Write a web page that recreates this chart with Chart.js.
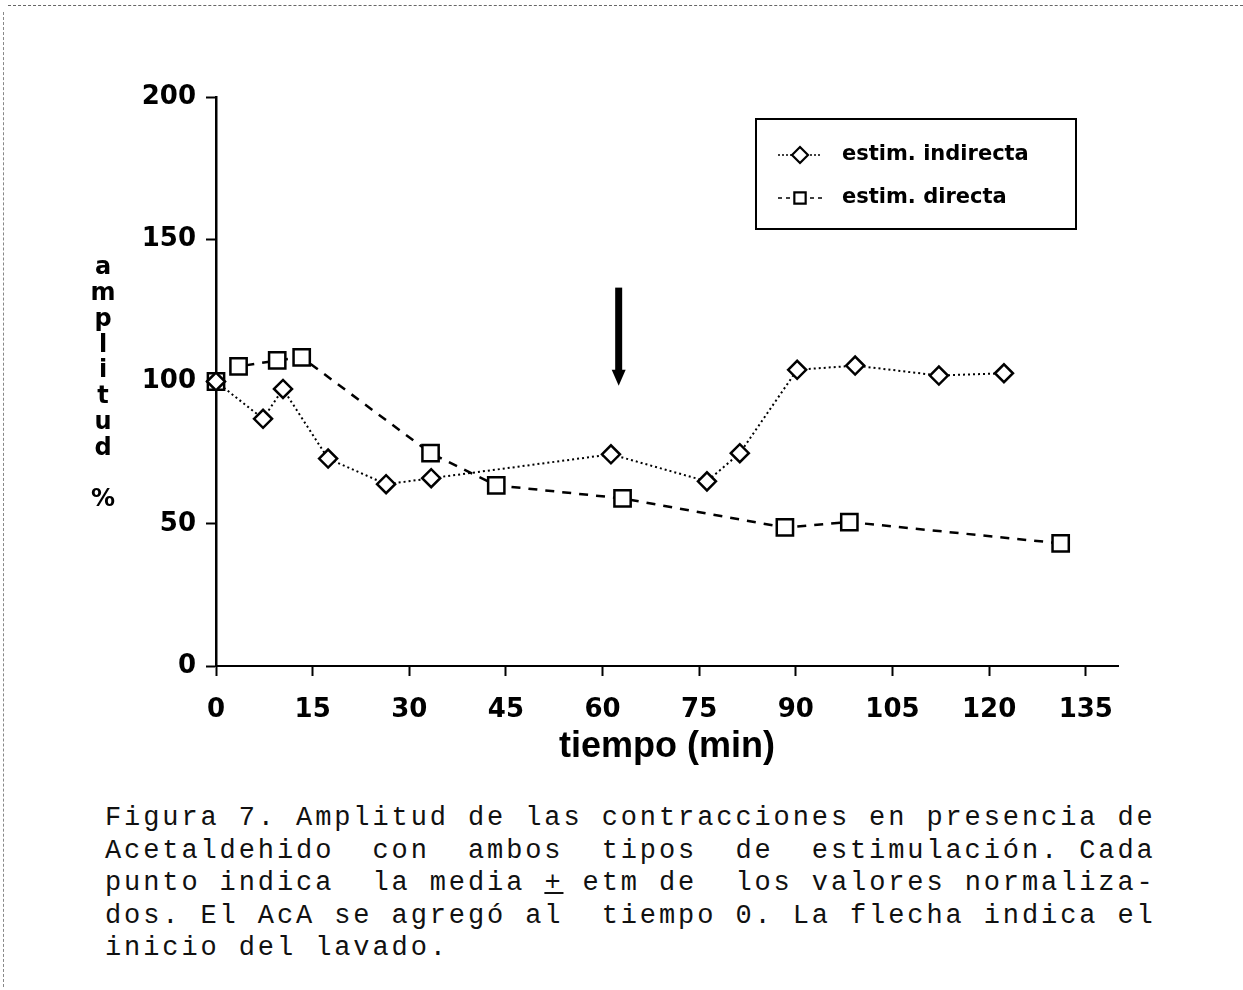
<!DOCTYPE html>
<html>
<head>
<meta charset="utf-8">
<script src="https://cdn.jsdelivr.net/npm/chart.js@4/dist/chart.umd.min.js"></script>
<style>
  html, body { margin: 0; padding: 0; background: #fff; }
  body { width: 1243px; height: 990px; position: relative; overflow: hidden; }
  #wrap { position: absolute; left: 0; top: 0; width: 1243px; height: 780px; }
  #scanTop { position: absolute; left: 8px; top: 5px; width: 1235px; border-top: 1px dashed #666; }
  #scanLeft { position: absolute; left: 3px; top: 12px; height: 975px; border-left: 1px dashed #888; }
  #caption {
    position: absolute; left: 105px; top: 802px;
    font-family: "Liberation Mono", "DejaVu Sans Mono", monospace;
    font-size: 27px; letter-spacing: 2.9px; line-height: 32.5px;
    white-space: pre; color: #111;
  }
</style>
</head>
<body>
<div id="scanTop"></div>
<div id="scanLeft"></div>
<div id="wrap"><canvas id="chart" width="1243" height="780"></canvas></div>
<div id="caption">Figura 7. Amplitud de las contracciones en presencia de
Acetaldehido  con  ambos  tipos  de  estimulación. Cada
punto indica  la media <u>+</u> etm de  los valores normaliza-
dos. El AcA se agregó al  tiempo 0. La flecha indica el
inicio del lavado.</div>

<script>
// tiempo (min) and amplitud (%)
const indirectaTime = [0, 7.3, 10.4, 17.4, 26.4, 33.4, 61.3, 76.2, 81.3, 90.2, 99.2, 112.2, 122.3];
const indirectaAmp = [100, 86.9, 97.4, 72.9, 63.9, 66.0, 74.4, 64.9, 74.8, 104.1, 105.6, 102.1, 102.9];

const directaTime = [0, 3.5, 9.5, 13.3, 33.3, 43.5, 63.1, 88.3, 98.3, 131.1];
const directaAmp = [100, 105.3, 107.4, 108.5, 74.8, 63.5, 58.9, 48.7, 50.6, 43.1];

const xTicks = [0, 15, 30, 45, 60, 75, 90, 105, 120, 135];
const yTicks = [0, 50, 100, 150, 200];

// inicio del lavado (arrow)
const washTime = 62.5;
const washArrowTop = 133;
const washArrowBottom = 98.5;

const seriesLabels = ["estim. indirecta", "estim. directa"];
const yTitle = "amplitud %";
const xTitle = "tiempo (min)";

const toPoints = (xs, ys) => xs.map((x, i) => ({ x: x, y: ys[i] }));

const extras = {
  id: "extras",
  afterDraw(chart) {
    const ctx = chart.ctx;
    const xs = chart.scales.x;
    const ys = chart.scales.y;
    ctx.save();

    // arrow
    const ax = xs.getPixelForValue(washTime);
    const aTop = ys.getPixelForValue(washArrowTop);
    const aBot = ys.getPixelForValue(washArrowBottom);
    ctx.strokeStyle = "#000";
    ctx.fillStyle = "#000";
    ctx.lineWidth = 7;
    ctx.beginPath();
    ctx.moveTo(ax, aTop);
    ctx.lineTo(ax, aBot - 14);
    ctx.stroke();
    ctx.beginPath();
    ctx.moveTo(ax - 7, aBot - 16);
    ctx.lineTo(ax + 7, aBot - 16);
    ctx.lineTo(ax, aBot);
    ctx.closePath();
    ctx.fill();

    // stacked y title
    ctx.font = "bold 24px 'DejaVu Sans'";
    ctx.textAlign = "center";
    ctx.textBaseline = "middle";
    [...yTitle].forEach((ch, i) => {
      ctx.fillText(ch, 103, 268 + i * 25.8);
    });

    // legend
    const bx = 756, by = 119, bw = 320, bh = 110;
    ctx.lineWidth = 2;
    ctx.strokeRect(bx, by, bw, bh);
    const rows = [155, 198];
    chart.data.datasets.forEach((ds, i) => {
      const y = rows[i];
      ctx.lineWidth = 1.5;
      ctx.setLineDash(i === 0 ? [2, 2] : [4, 4]);
      ctx.beginPath();
      ctx.moveTo(778, y);
      ctx.lineTo(822, y);
      ctx.stroke();
      ctx.setLineDash([]);
      ctx.fillStyle = "#fff";
      ctx.strokeStyle = "#000";
      ctx.lineWidth = 2.2;
      Chart.helpers.drawPoint(ctx, {
        pointStyle: ds.pointStyle,
        radius: 8,
        rotation: 0,
        borderWidth: 2.2
      }, 800, y);
      ctx.fillStyle = "#000";
      ctx.font = "bold 21px 'DejaVu Sans'";
      ctx.textAlign = "left";
      ctx.fillText(ds.label, 842, y);
    });
    ctx.restore();
  }
};

new Chart(document.getElementById("chart"), {
  type: "line",
  data: {
    datasets: [
      {
        label: seriesLabels[0],
        data: toPoints(indirectaTime, indirectaAmp),
        borderColor: "#000",
        borderWidth: 2,
        borderDash: [2, 3],
        pointStyle: "rectRot",
        pointRadius: 9,
        pointBorderWidth: 2.5,
        pointBackgroundColor: "#fff",
        pointBorderColor: "#000",
        tension: 0,
        clip: false
      },
      {
        label: seriesLabels[1],
        data: toPoints(directaTime, directaAmp),
        borderColor: "#000",
        borderWidth: 2.5,
        borderDash: [9, 8],
        pointStyle: "rect",
        pointRadius: 11.5,
        pointBorderWidth: 2.5,
        pointBackgroundColor: "#fff",
        pointBorderColor: "#000",
        tension: 0,
        clip: false
      }
    ]
  },
  options: {
    responsive: false,
    animation: false,
    events: [],
    layout: { padding: { left: 0, top: 97, right: 125, bottom: 0 } },
    plugins: {
      legend: { display: false },
      tooltip: { enabled: false }
    },
    scales: {
      x: {
        type: "linear",
        min: 0,
        max: 140,
        afterBuildTicks: (axis) => { axis.ticks = xTicks.map((v) => ({ value: v })); },
        afterFit: (axis) => { axis.height = 114; },
        border: { color: "#000", width: 2 },
        grid: { drawOnChartArea: false, drawTicks: true, tickLength: 10, tickWidth: 2, tickColor: "#000" },
        ticks: {
          color: "#000",
          padding: 19,
          maxRotation: 0,
          autoSkip: false,
          font: { family: "DejaVu Sans", weight: "bold", size: 26 }
        },
        title: {
          display: true,
          text: xTitle,
          color: "#000",
          font: { family: "Liberation Sans", weight: "bold", size: 36 },
          padding: { top: 0, bottom: 11 }
        }
      },
      y: {
        type: "linear",
        min: 0,
        max: 200,
        afterBuildTicks: (axis) => { axis.ticks = yTicks.map((v) => ({ value: v })); },
        afterFit: (axis) => { axis.width = 216; },
        border: { color: "#000", width: 2.5 },
        grid: { drawOnChartArea: false, drawTicks: true, tickLength: 10, tickWidth: 2, tickColor: "#000" },
        ticks: {
          color: "#000",
          padding: 10,
          font: { family: "DejaVu Sans", weight: "bold", size: 26 }
        }
      }
    }
  },
  plugins: [extras]
});
</script>
</body>
</html>
